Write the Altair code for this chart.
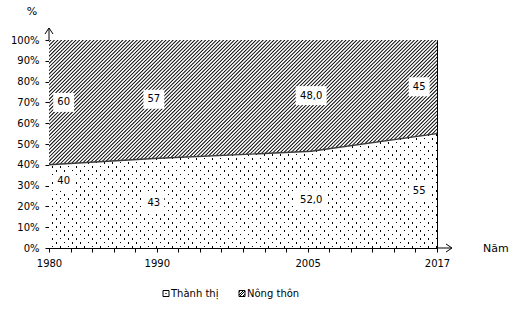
import altair as alt
import pandas as pd

# ---- data ----
years = [1980, 1990, 2005, 2017]
urban_share = [40, 43, 46.5, 55]          # boundary as drawn
urban_labels = ["40", "43", "52,0", "55"]  # printed labels, Thành thị
rural_labels = ["60", "57", "48,0", "45"]  # printed labels, Nông thôn
y_ticks = list(range(0, 101, 10))
series_names = ["Thành thị", "Nông thôn"]

FONT = "DejaVu Sans"
W, H = 388, 208

df = pd.DataFrame({"year": years, "urban": urban_share,
                   "urban_label": urban_labels, "rural_label": rural_labels})


def stripes(direction, w, h, period, ink_w, ink, paper):
    L = w + h
    a = L / (w * w + h * h)
    if direction == "up":      # '/' lines
        x1, y1, x2, y2 = 0, 0, a * w, a * h
    else:                      # '\' lines
        x1, y1, x2, y2 = 0, 1, a * w, 1 - a * h
    p = period / L
    iw = ink_w / L
    stops = [alt.GradientStop(offset=0, color=paper)]
    i = 0
    while True:
        s = i * p + 0.5 * p
        e = s + iw
        if e >= 1:
            break
        stops += [alt.GradientStop(offset=round(s, 6), color=paper),
                  alt.GradientStop(offset=round(s, 6), color=ink),
                  alt.GradientStop(offset=round(e, 6), color=ink),
                  alt.GradientStop(offset=round(e, 6), color=paper)]
        i += 1
    stops.append(alt.GradientStop(offset=1, color=paper))
    return alt.LinearGradient(gradient="linear", stops=stops,
                              x1=x1, y1=y1, x2=x2, y2=y2)


h_bot = H * max(urban_share) / 100
dotsA = stripes("down", W, h_bot, 8, 1.6, "black", "white")
dotsB = stripes("up", W, h_bot, 8, 1.6, "rgba(255,255,255,0)", "white")
hatch_small = stripes("up", 6, 6, 2.5, 1.0, "black", "white")

tick_vals = [1980 + i * (years[-1] - years[0]) / 18 for i in range(19)]
label_expr = ("indexof([" + ",".join(str(y) for y in years) +
              "], round(datum.value)) >= 0 ? '' + round(datum.value) : ''")

x_axis = alt.Axis(values=tick_vals, labelExpr=label_expr, title=None, grid=False,
                  tickSize=4, tickColor="black", domainColor="black",
                  labelFont=FONT, labelFontSize=10, labelColor="black",
                  labelPadding=6, labelFlush=False, labelOverlap=False)
y_axis = alt.Axis(values=y_ticks, labelExpr="datum.value + '%'", title=None,
                  grid=False, tickSize=4, tickColor="black", domainColor="black",
                  labelFont=FONT, labelFontSize=10, labelColor="black",
                  labelPadding=6, labelOverlap=False)
xs = alt.Scale(domain=[years[0], years[-1]], nice=False, zero=False)
ys = alt.Scale(domain=[0, 100], nice=False)


def X(f):
    return alt.X(f"{f}:Q", scale=xs, axis=x_axis)


def Y(f):
    return alt.Y(f"{f}:Q", scale=ys, axis=y_axis)


base = alt.Chart(df)
one = alt.Chart(pd.DataFrame({"k": [0]}))

# Nông thôn: white area + diagonal hatch texture (a very wide dashed stroke,
# clipped to the plot); the Thành thị area is drawn over its lower part.
upper = base.transform_calculate(top="100").mark_area(color="white").encode(
    x=X("year"), y=Y("urban"), y2="top:Q")
R = 260
hatch = one.mark_rule(color="black", strokeWidth=2 * R + 80, strokeCap="butt",
                      strokeDash=[0.95, 3.6 / 2 ** 0.5 - 0.95], clip=True).encode(
    x=alt.value(W / 2 - R), x2=alt.value(W / 2 + R),
    y=alt.value(H / 2 - R), y2=alt.value(H / 2 + R))
lowerA = base.mark_area(color=dotsA).encode(x=X("year"), y=Y("urban"))
lowerB = base.mark_area(color=dotsB).encode(x=X("year"), y=Y("urban"))
boundary = base.mark_line(color="#3a3a3a", strokeWidth=1.4).encode(
    x=X("year"), y=Y("urban"))

box2 = "M-1.1,-1H1.1V1H-1.1Z"
box4 = "M-1.63,-1H1.63V1H-1.63Z"
lx = f"clamp(datum.year, {years[0] + 1.4}, {years[-1] - 1.7})"


def label_layers(label_field, y_expr):
    b = base.transform_calculate(
        lx=lx, ly=y_expr,
        shp=f"length(datum.{label_field}) > 2 ? '{box4}' : '{box2}'")
    boxes = b.mark_point(filled=True, color="white", opacity=1, size=361,
                         strokeWidth=0).encode(
        x=X("lx"), y=Y("ly"), shape=alt.Shape("shp:N", scale=None, legend=None))
    texts = b.mark_text(font=FONT, fontSize=10, color="black").encode(
        x=X("lx"), y=Y("ly"), text=f"{label_field}:N")
    return [boxes, texts]


labels = (label_layers("rural_label", "(datum.urban + 100) / 2") +
          label_layers("urban_label",
                       "datum.year == %d ? datum.urban * 0.8 : datum.urban / 2" % years[0]))

y_ext = one.mark_rule(color="black").encode(x=alt.value(0), y=alt.value(-12), y2=alt.value(0))
y_arrow = one.mark_point(shape="M-0.67,1L0,0L0.67,1", size=144, filled=False,
                         color="black", opacity=1, strokeWidth=1).encode(
    x=alt.value(0), y=alt.value(-12))
x_ext = one.mark_rule(color="black").encode(x=alt.value(W), x2=alt.value(W + 15), y=alt.value(H))
x_arrow = one.mark_point(shape="M-1,-0.67L0,0L-1,0.67", size=144, filled=False,
                         color="black", opacity=1, strokeWidth=1).encode(
    x=alt.value(W + 15), y=alt.value(H))
pct = one.mark_text(text="%", font=FONT, fontSize=11, color="black").encode(
    x=alt.value(-17), y=alt.value(-28))
nam = one.mark_text(text="Năm", font=FONT, fontSize=11, color="black", align="left").encode(
    x=alt.value(434), y=alt.value(H + 1))

# legend
leg_sq1 = one.mark_point(shape="square", size=36, fill="white", stroke="black",
                         strokeWidth=1, opacity=1).encode(x=alt.value(117), y=alt.value(253.5))
leg_dot = one.mark_point(shape="square", size=1.5, filled=True, color="black",
                         opacity=1).encode(x=alt.value(117), y=alt.value(253.5))
leg_sq2 = one.mark_point(shape="square", size=36, fill=hatch_small, stroke="black",
                         strokeWidth=1, opacity=1).encode(x=alt.value(193), y=alt.value(253.5))
leg_t1 = one.mark_text(text=series_names[0], font=FONT, fontSize=10, color="black",
                       align="left").encode(x=alt.value(122), y=alt.value(253.5))
leg_t2 = one.mark_text(text=series_names[1], font=FONT, fontSize=10, color="black",
                       align="left").encode(x=alt.value(198), y=alt.value(253.5))

chart = alt.layer(
    upper, hatch, lowerA, lowerB, boundary, *labels,
    y_ext, y_arrow, x_ext, x_arrow, pct, nam,
    leg_sq1, leg_dot, leg_sq2, leg_t1, leg_t2
).properties(
    width=W, height=H,
    autosize=alt.AutoSizeParams(type="none"),
    padding={"left": 49, "top": 40, "right": 522 - 49 - W, "bottom": 313 - 40 - H},
    background="white",
).configure_view(stroke="black", strokeWidth=1)

chart.save("out.html", embed_options={"renderer": "svg", "actions": False})
